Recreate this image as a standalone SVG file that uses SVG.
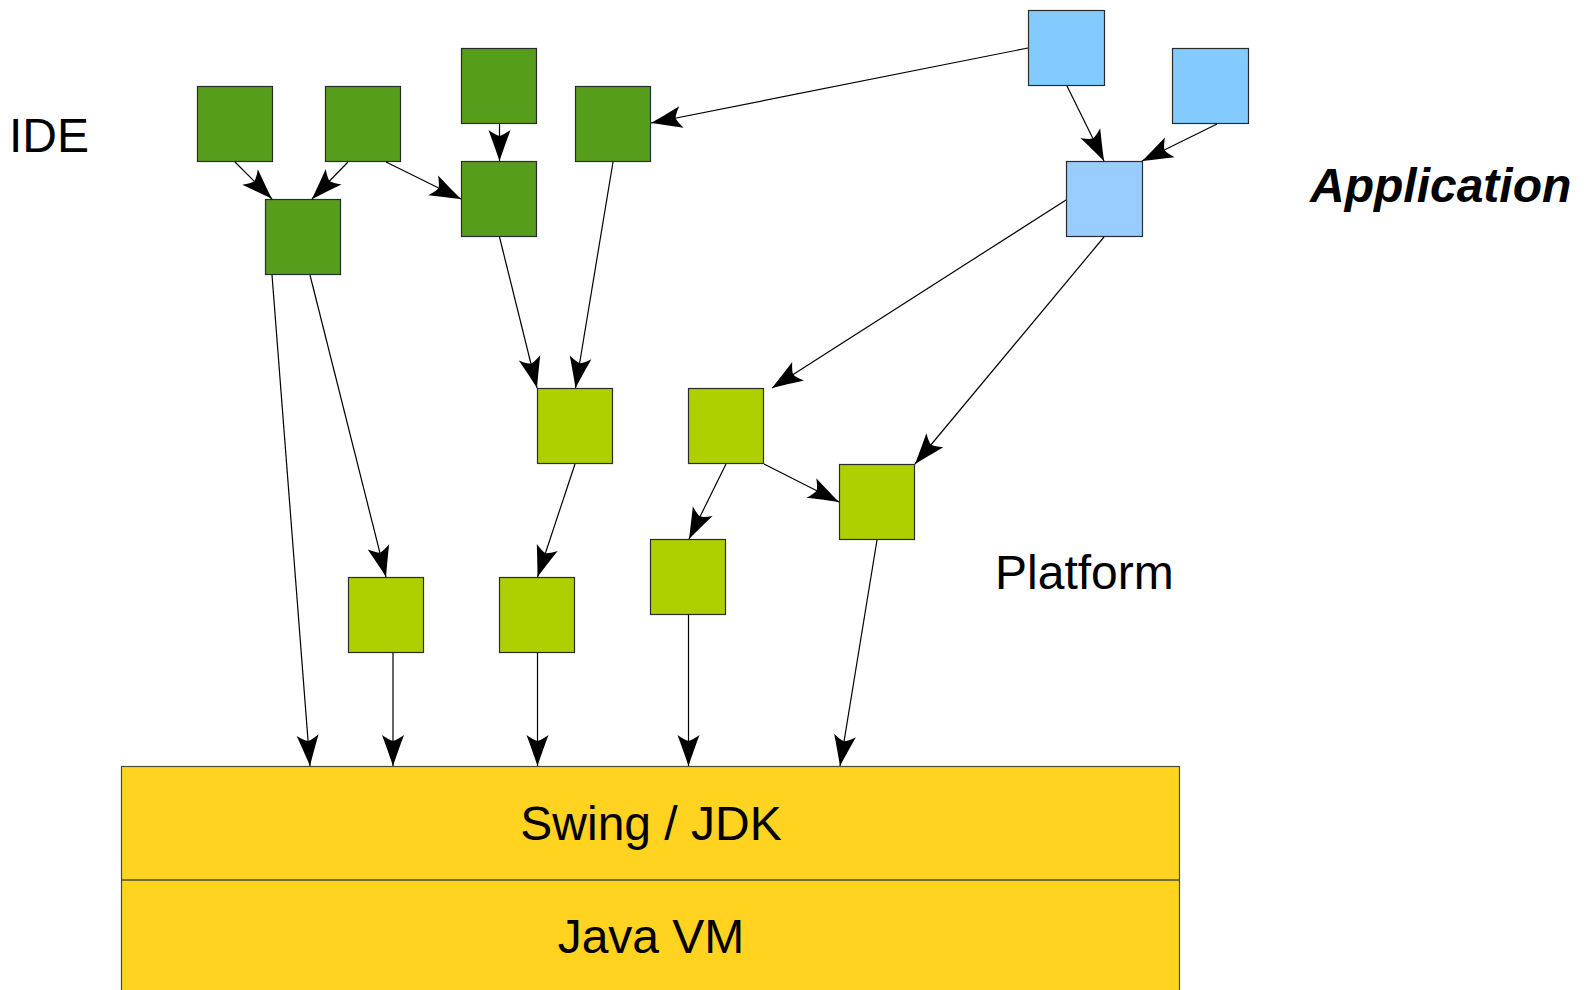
<svg xmlns="http://www.w3.org/2000/svg" width="1591" height="990" viewBox="0 0 1591 990">
<defs>
<style>
.ide{fill:#579d1c;stroke:#2b2b2b;stroke-width:1.2}
.plat{fill:#aecf00;stroke:#2b2b2b;stroke-width:1.2}
.app{fill:#83caff;stroke:#2b2b2b;stroke-width:1.2}
.app2{fill:#99ccff;stroke:#2b2b2b;stroke-width:1.2}
.base{fill:#ffd320;stroke:#4a4a3a;stroke-width:1.2}
.lbl{font-family:"Liberation Sans",Arial,sans-serif;font-size:48px;fill:#000}
#connectors line{stroke:#000;stroke-width:1.2;fill:none;marker-end:url(#arr)}
</style>
<marker id="arr" markerUnits="userSpaceOnUse" markerWidth="40" markerHeight="30" refX="0" refY="0" orient="auto" overflow="visible">
<path d="M0,0 C-9,-3 -20,-7 -31,-11 Q-26,-4 -25,0 Q-26,4 -31,11 C-20,7 -9,3 0,0 Z" fill="#000"/>
</marker>
</defs>
<rect width="1591" height="990" fill="#fff"/>

<g id="base">
<rect class="base" x="121.5" y="766.5" width="1058" height="240"/>
<line x1="121.5" y1="880" x2="1179.5" y2="880" stroke="#4a4a3a" stroke-width="1.6"/>
<text class="lbl" x="651" y="840" text-anchor="middle">Swing / JDK</text>
<text class="lbl" x="651" y="953" text-anchor="middle">Java VM</text>
</g>

<g id="labels">
<text class="lbl" x="9" y="152">IDE</text>
<text class="lbl" x="995" y="589">Platform</text>
<text class="lbl" x="1310" y="202" font-weight="bold" font-style="italic">Application</text>
</g>

<g id="nodeA"><rect class="ide" x="197.5" y="86.5" width="75" height="75"/></g>
<g id="nodeB"><rect class="ide" x="325.5" y="86.5" width="75" height="75"/></g>
<g id="nodeC"><rect class="ide" x="461.5" y="48.5" width="75" height="75"/></g>
<g id="nodeD"><rect class="ide" x="575.5" y="86.5" width="75" height="75"/></g>
<g id="nodeE"><rect class="ide" x="265.5" y="199.5" width="75" height="75"/></g>
<g id="nodeF"><rect class="ide" x="461.5" y="161.5" width="75" height="75"/></g>

<g id="nodeG"><rect class="app" x="1028.5" y="10.5" width="76" height="75"/></g>
<g id="nodeH"><rect class="app" x="1172.5" y="48.5" width="76" height="75"/></g>
<g id="nodeI"><rect class="app2" x="1066.5" y="161.5" width="76" height="75"/></g>

<g id="nodeJ"><rect class="plat" x="537.5" y="388.5" width="75" height="75"/></g>
<g id="nodeK"><rect class="plat" x="688.5" y="388.5" width="75" height="75"/></g>
<g id="nodeL"><rect class="plat" x="839.5" y="464.5" width="75" height="75"/></g>
<g id="nodeM"><rect class="plat" x="650.5" y="539.5" width="75" height="75"/></g>
<g id="nodeN"><rect class="plat" x="499.5" y="577.5" width="75" height="75"/></g>
<g id="nodeO"><rect class="plat" x="348.5" y="577.5" width="75" height="75"/></g>

<g id="connectors">
<line x1="235" y1="162" x2="272" y2="199"/>
<line x1="348" y1="162" x2="312" y2="199"/>
<line x1="386" y1="162" x2="461" y2="199"/>
<line x1="499.5" y1="124" x2="499.5" y2="161"/>
<line x1="1028" y1="48" x2="651" y2="123"/>
<line x1="1067" y1="86" x2="1104" y2="161"/>
<line x1="1217" y1="124" x2="1142" y2="161"/>
<line x1="272" y1="275" x2="310" y2="766"/>
<line x1="310" y1="275" x2="386" y2="577"/>
<line x1="499.5" y1="237" x2="537" y2="388"/>
<line x1="613" y1="162" x2="575.5" y2="388"/>
<line x1="1066" y1="200" x2="772" y2="388"/>
<line x1="1104" y1="237" x2="915" y2="464"/>
<line x1="726" y1="464" x2="689" y2="539"/>
<line x1="764" y1="464" x2="839" y2="502"/>
<line x1="575" y1="464" x2="537.5" y2="577"/>
<line x1="393" y1="653" x2="393" y2="766"/>
<line x1="537.5" y1="653" x2="537.5" y2="766"/>
<line x1="688.5" y1="615" x2="688.5" y2="766"/>
<line x1="877" y1="540" x2="840" y2="766"/>
</g>
</svg>
